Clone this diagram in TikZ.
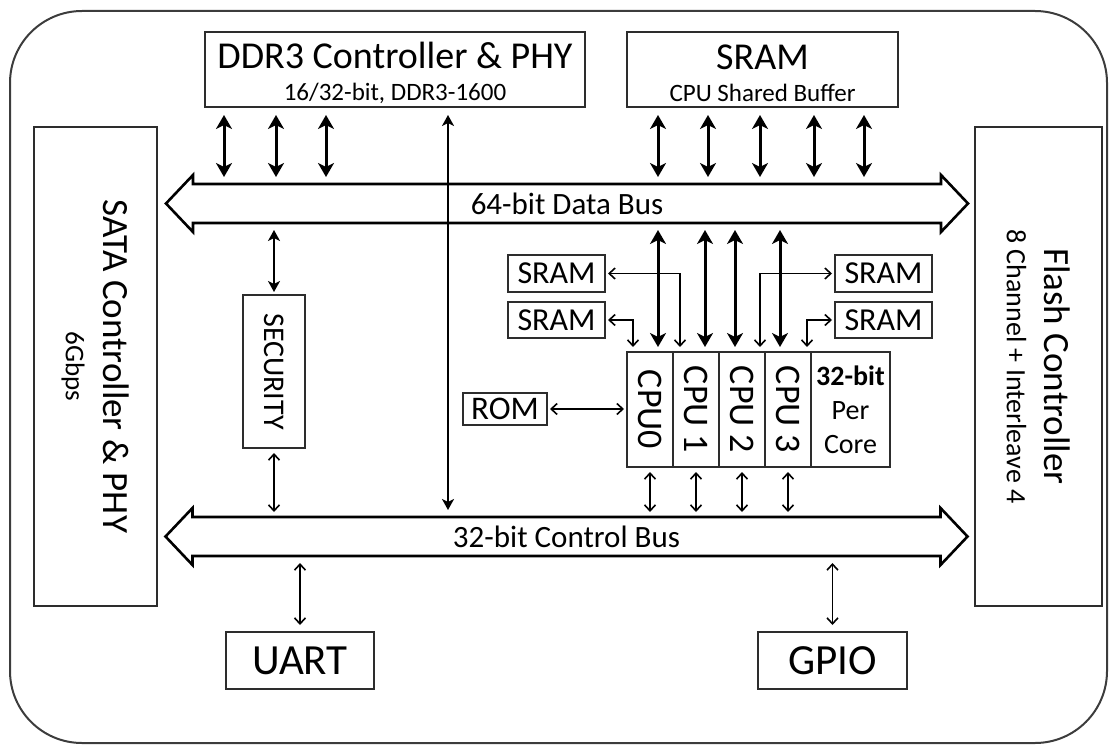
\documentclass[tikz,border=0pt]{standalone}
\usepackage{fontspec}
\setmainfont{Carlito}
\usepackage{graphicx}
\usetikzlibrary{arrows.meta}
\definecolor{frame color}{RGB}{60,60,60}
\definecolor{box color}{RGB}{45,45,45}
\newcommand{\subtxt}[1]{\fontsize{#1}{#1}\selectfont}

\begin{document}
\begin{tikzpicture}[
	x=1pt, y=-1pt,
	box/.style={draw=box color, line width=1.8pt, inner sep=0pt, outer sep=0pt, align=center},
	smallbox/.style={box, line width=2.6pt, font=\fontsize{32}{34}\selectfont},
	cell/.style={box, line width=1.2pt, minimum width=46pt, minimum height=115pt, font=\fontsize{36}{38}\selectfont},
	busshaft/.style={inner sep=0pt, outer sep=0pt, minimum width=748pt, minimum height=39pt, font=\fontsize{31}{33}\selectfont},
	busline/.style={line width=2.6pt, line join=miter},
	bigarr/.style={line width=3pt, {Stealth[length=14pt,width=16pt,inset=4pt]}-{Stealth[length=14pt,width=16pt,inset=4pt]}},
	midarr/.style={line width=2.2pt, {Stealth[length=11pt,width=12pt,inset=3pt]}-{Stealth[length=11pt,width=12pt,inset=3pt]}},
	thinarr/.style={line width=1.6pt, {Straight Barb[length=6pt,width=11pt]}-{Straight Barb[length=6pt,width=11pt]}}]

\useasboundingbox (0,0) rectangle (1113,746);

% Outer frame
\draw [frame color, line width=2pt, rounded corners=72pt] (10,11) rectangle (1107,743);

% Memories on top
\node (ddr) at (395,69.5) [box, minimum width=380pt, minimum height=75pt, font=\fontsize{38}{38}\selectfont]
    {\rule{0pt}{33pt}DDR3 Controller \& PHY\\[-6pt]\subtxt{25}16/32-bit, DDR3-1600};
\node (sram) at (762.5,69.5) [box, minimum width=271pt, minimum height=75pt, font=\fontsize{38}{38}\selectfont]
    {\rule{0pt}{33pt}SRAM\\[-6pt]\subtxt{25}CPU Shared Buffer};

% Side controllers
\node (sata) at (95.5,366.5) [box, rotate=-90, minimum width=479pt, minimum height=123pt, font=\fontsize{37}{38}\selectfont]
    {SATA Controller \& PHY\\[0pt]\subtxt{27}6Gbps};
\node (flash) at (1038.5,366.5) [box, rotate=-90, minimum width=479pt, minimum height=127pt, font=\fontsize{37}{38}\selectfont]
    {Flash Controller\\[0pt]\subtxt{28}8 Channel + Interleave 4};

% Buses
\node (dbus) at (567,203.5) [busshaft] {64-bit Data Bus};
\node (cbus) at (566.5,536.5) [busshaft] {32-bit Control Bus};
\foreach \b in {dbus,cbus} {
    \draw [busline] (\b.north west) -- (\b.north east) -- ++(0,-9) -- ([xshift=27pt]\b.east)
        -- ([yshift=-9pt]\b.south east) -- (\b.south east) -- (\b.south west) -- ++(0,9)
        -- ([xshift=-27pt]\b.west) -- ([yshift=9pt]\b.north west) -- cycle;
}

% Security block
\node (sec) at (274,371.5) [box, minimum width=62pt, minimum height=153pt, font=\fontsize{30}{32}\selectfont]
    {\rotatebox{-90}{SECURITY}};

% CPU cluster
\node (cpu0) at (650,409.5) [cell] {\rotatebox{-90}{CPU0}};
\node (cpu1) at (696,409.5) [cell] {\rotatebox{-90}{CPU 1}};
\node (cpu2) at (742,409.5) [cell] {\rotatebox{-90}{CPU 2}};
\node (cpu3) at (788,409.5) [cell] {\rotatebox{-90}{CPU 3}};
\node (core) at (850.5,409.5) [cell, minimum width=79pt, font=\fontsize{28}{34}\selectfont]
    {\textbf{32-bit}\\Per\\Core};

% Local memories
\node (sraml1) at (556.5,273.5) [smallbox, minimum width=97pt, minimum height=37pt] {SRAM};
\node (sraml2) at (556.5,320) [smallbox, minimum width=97pt, minimum height=36pt] {SRAM};
\node (sramr1) at (883.5,273.5) [smallbox, minimum width=97pt, minimum height=37pt] {SRAM};
\node (sramr2) at (883.5,320) [smallbox, minimum width=97pt, minimum height=36pt] {SRAM};
\node (rom) at (505,409) [smallbox, minimum width=84pt, minimum height=32pt, font=\fontsize{33}{34}\selectfont] {ROM};

% Peripherals
\node (uart) at (300,660.5) [box, minimum width=148pt, minimum height=57pt, font=\fontsize{43}{44}\selectfont] {UART};
\node (gpio) at (832.5,660.5) [box, minimum width=149pt, minimum height=57pt, font=\fontsize{43}{44}\selectfont] {GPIO};

% Data bus links
\foreach \x in {224,276,326} {
    \draw [bigarr, shorten <=8pt, shorten >=7pt] (ddr.south -| \x,0) -- (dbus.north -| \x,0);
}
\foreach \x in {658,708,760,814,864} {
    \draw [bigarr, shorten <=8pt, shorten >=7pt] (sram.south -| \x,0) -- (dbus.north -| \x,0);
}
\foreach \c/\x in {cpu0/658,cpu1/705,cpu2/735,cpu3/780} {
    \draw [bigarr, shorten <=7pt, shorten >=5pt] (dbus.south -| \x,0) -- (\c.north -| \x,0);
}
\draw [midarr, shorten <=7pt, shorten >=3pt] (dbus.south -| sec.north) -- (sec.north);
\draw [midarr, shorten <=8pt, shorten >=7pt] (ddr.south -| 448,0) -- (cbus.north -| 448,0);

% Local links
\draw [thinarr, shorten <=3pt, shorten >=5pt] (sraml1.east) -| (cpu1.north -| 680,0);
\draw [thinarr, shorten <=3pt, shorten >=5pt] (sraml2.east) -| (cpu0.north -| 633,0);
\draw [thinarr, shorten <=3pt, shorten >=5pt] (sramr1.west) -| (cpu2.north -| 760,0);
\draw [thinarr, shorten <=3pt, shorten >=5pt] (sramr2.west) -| (cpu3.north -| 807,0);
\draw [thinarr, shorten <=3pt, shorten >=3pt] (rom.east) -- (rom.east -| cpu0.west);

% Control bus links
\foreach \c in {cpu0,cpu1,cpu2,cpu3} {
    \draw [thinarr, shorten <=5pt, shorten >=5pt] (\c.south) -- (\c.south |- cbus.north);
}
\draw [thinarr, shorten <=5pt, shorten >=5pt] (sec.south) -- (sec.south |- cbus.north);
\draw [thinarr, shorten <=7pt, shorten >=7pt] (cbus.south -| uart.north) -- (uart.north);
\draw [thinarr, shorten <=7pt, shorten >=7pt] (cbus.south -| gpio.north) -- (gpio.north);

\end{tikzpicture}
\end{document}
